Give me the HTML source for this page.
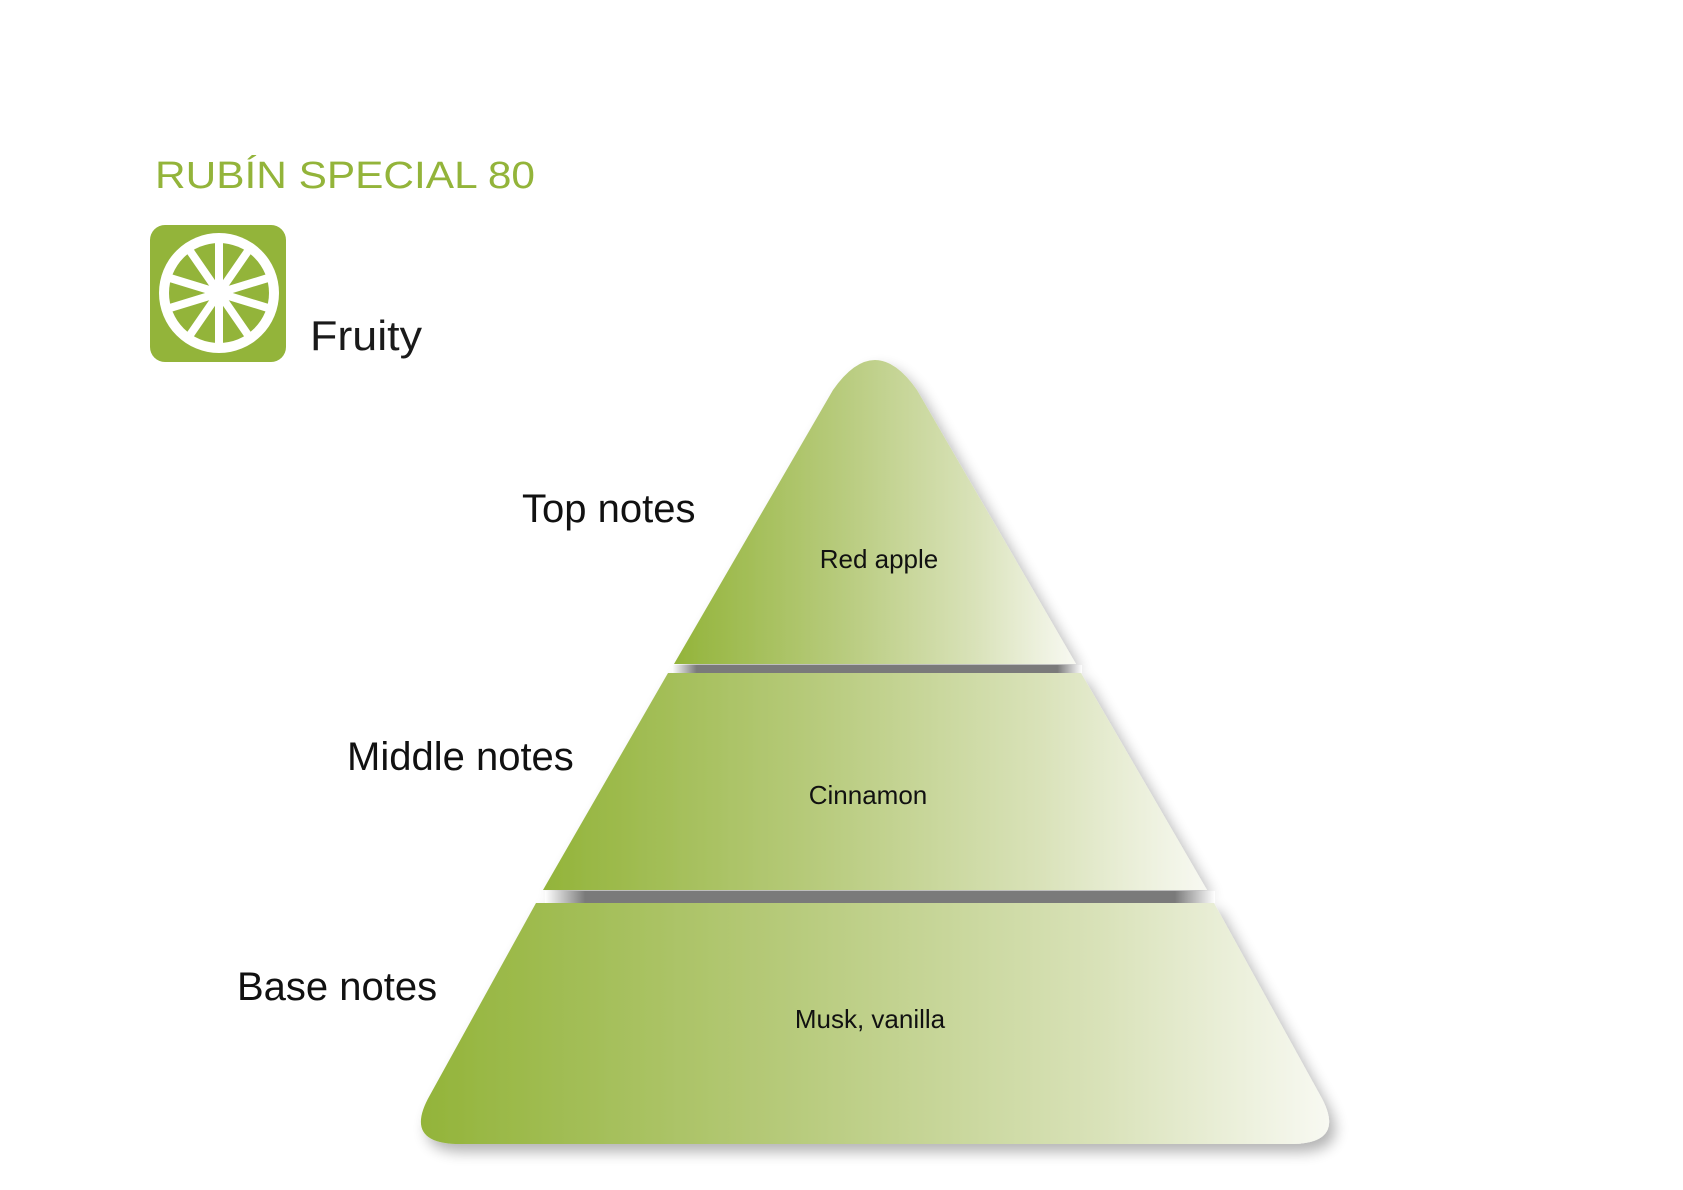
<!DOCTYPE html>
<html><head><meta charset="utf-8"><style>
html,body{margin:0;padding:0;background:#fff;}
svg{display:block}
</style></head><body>
<svg width="1683" height="1190" viewBox="0 0 1683 1190" xmlns="http://www.w3.org/2000/svg">
<defs>
<linearGradient id="g" x1="0" y1="0" x2="1" y2="0">
<stop offset="0" stop-color="#93b43a"/>
<stop offset="0.4" stop-color="#b6ca7a"/>
<stop offset="0.75" stop-color="#d9e2b9"/>
<stop offset="1" stop-color="#f8f9f2"/>
</linearGradient>
<linearGradient id="bar" x1="0" y1="0" x2="1" y2="0">
<stop offset="0" stop-color="#fff"/>
<stop offset="0.06" stop-color="#7a7a7a"/>
<stop offset="0.94" stop-color="#7a7a7a"/>
<stop offset="1" stop-color="#fff"/>
</linearGradient>
<filter id="sh" x="-10%" y="-10%" width="120%" height="125%">
<feGaussianBlur in="SourceAlpha" stdDeviation="7"/>
<feOffset dx="6" dy="8"/>
<feComponentTransfer><feFuncA type="linear" slope="0.3"/></feComponentTransfer>
<feMerge><feMergeNode/><feMergeNode in="SourceGraphic"/></feMerge>
</filter>
</defs>

<text x="155" y="188" font-family="Liberation Sans, sans-serif" font-size="38" fill="#93b43a" textLength="380" lengthAdjust="spacingAndGlyphs">RUBÍN SPECIAL 80</text>

<rect x="150" y="225" width="136" height="137" rx="15" fill="#93b43a"/>
<circle cx="219" cy="293" r="60" fill="#fff"/>
<circle cx="219" cy="293" r="50" fill="#93b43a"/>
<g stroke="#fff" stroke-width="8" stroke-linecap="round">
<line x1="219" y1="293" x2="219" y2="242"/>
<line x1="219" y1="293" x2="219" y2="344"/>
<line x1="219" y1="293" x2="170" y2="278"/>
<line x1="219" y1="293" x2="268" y2="308"/>
<line x1="219" y1="293" x2="190" y2="251"/>
<line x1="219" y1="293" x2="248" y2="335"/>
<line x1="219" y1="293" x2="248" y2="251"/>
<line x1="219" y1="293" x2="190" y2="335"/>
<line x1="219" y1="293" x2="268" y2="278"/>
<line x1="219" y1="293" x2="170" y2="308"/>
</g>
<circle cx="219" cy="293" r="7" fill="#fff"/>

<text x="310" y="350" font-family="Liberation Sans, sans-serif" font-size="42" fill="#1a1a1a" textLength="112" lengthAdjust="spacingAndGlyphs">Fruity</text>

<g filter="url(#sh)">
<path d="M674,664 L833,390 Q875,330 917,390 L1076,664 Z" fill="url(#g)"/>
<path d="M668,673 L1081,673 L1207,890 L543,890 Z" fill="url(#g)"/>
<path d="M536,903 L1214,903 L1320,1095 Q1348,1144 1290,1144 L460,1144 Q402,1144 430,1095 Z" fill="url(#g)"/>
</g>
<rect x="672" y="665" width="410" height="8" fill="url(#bar)"/>
<rect x="545" y="891" width="670" height="12" fill="url(#bar)"/>

<g font-family="Liberation Sans, Arial, sans-serif" fill="#111">
<text x="522" y="522" font-size="40">Top notes</text>
<text x="347" y="770" font-size="40">Middle notes</text>
<text x="237" y="1000" font-size="40">Base notes</text>
<g font-size="26" text-anchor="middle">
<text x="879" y="568">Red apple</text>
<text x="868" y="804">Cinnamon</text>
<text x="870" y="1028">Musk, vanilla</text>
</g>
</g>
</svg>
</body></html>
